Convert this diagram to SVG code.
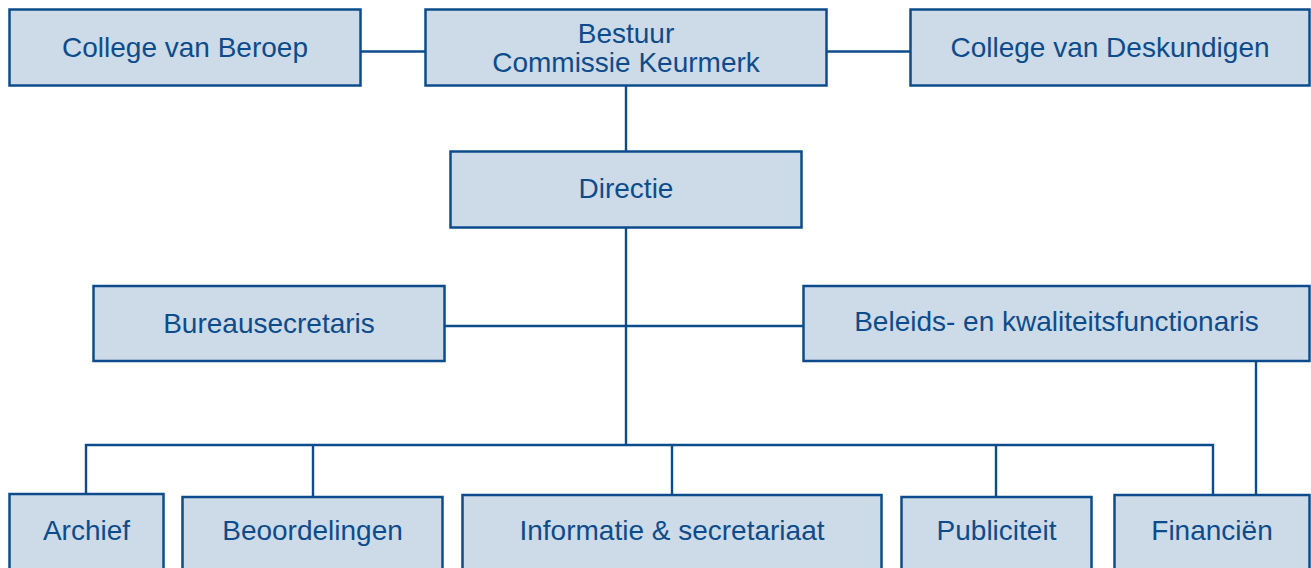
<svg xmlns="http://www.w3.org/2000/svg" width="1311" height="568" viewBox="0 0 1311 568">
<style>
.box{fill:#cddae7;stroke:#0d4c8c;stroke-width:2.5}
.lbl{font-family:"Liberation Sans",Arial,sans-serif;font-size:28px;fill:#0d4c8c;text-anchor:middle}
.con{fill:none;stroke:#0d4c8c;stroke-width:2.4}
</style>
<rect width="1311" height="568" fill="#ffffff"/>
<g id="connectors">
<line class="con" x1="361" y1="51.5" x2="425" y2="51.5"/>
<line class="con" x1="827" y1="51.5" x2="910" y2="51.5"/>
<line class="con" x1="626" y1="86" x2="626" y2="151"/>
<line class="con" x1="626" y1="227" x2="626" y2="445"/>
<line class="con" x1="445" y1="326" x2="803" y2="326"/>
<polyline class="con" points="86,494 86,445 1213,445 1213,495"/>
<line class="con" x1="313" y1="445" x2="313" y2="497"/>
<line class="con" x1="672" y1="445" x2="672" y2="495"/>
<line class="con" x1="996" y1="445" x2="996" y2="497"/>
<line class="con" x1="1256" y1="361" x2="1256" y2="495"/>
</g>
<g id="college-beroep">
<rect class="box" x="9.5" y="9.5" width="351" height="76"/>
<text class="lbl" x="185" y="57">College van Beroep</text>
</g>
<g id="bestuur">
<rect class="box" x="425.5" y="9.5" width="401" height="76"/>
<text class="lbl" x="626" y="43">Bestuur</text>
<text class="lbl" x="626" y="72">Commissie Keurmerk</text>
</g>
<g id="college-deskundigen">
<rect class="box" x="910.5" y="9.5" width="399" height="76"/>
<text class="lbl" x="1110" y="57">College van Deskundigen</text>
</g>
<g id="directie">
<rect class="box" x="450.5" y="151.5" width="351" height="76"/>
<text class="lbl" x="626" y="198">Directie</text>
</g>
<g id="bureausecretaris">
<rect class="box" x="93.5" y="286" width="351" height="75"/>
<text class="lbl" x="269" y="333">Bureausecretaris</text>
</g>
<g id="beleids">
<rect class="box" x="803.5" y="286" width="506" height="75"/>
<text class="lbl" x="1056.5" y="331">Beleids- en kwaliteitsfunctionaris</text>
</g>
<g id="archief">
<rect class="box" x="9.5" y="494" width="154" height="90"/>
<text class="lbl" x="86.5" y="540">Archief</text>
</g>
<g id="beoordelingen">
<rect class="box" x="182.5" y="497" width="260" height="90"/>
<text class="lbl" x="312.5" y="540">Beoordelingen</text>
</g>
<g id="informatie">
<rect class="box" x="462.5" y="495" width="419" height="90"/>
<text class="lbl" x="672" y="540">Informatie &amp; secretariaat</text>
</g>
<g id="publiciteit">
<rect class="box" x="901.5" y="497" width="190" height="90"/>
<text class="lbl" x="996.5" y="540">Publiciteit</text>
</g>
<g id="financien">
<rect class="box" x="1114.5" y="495" width="195" height="90"/>
<text class="lbl" x="1212" y="540">Financiën</text>
</g>
</svg>
